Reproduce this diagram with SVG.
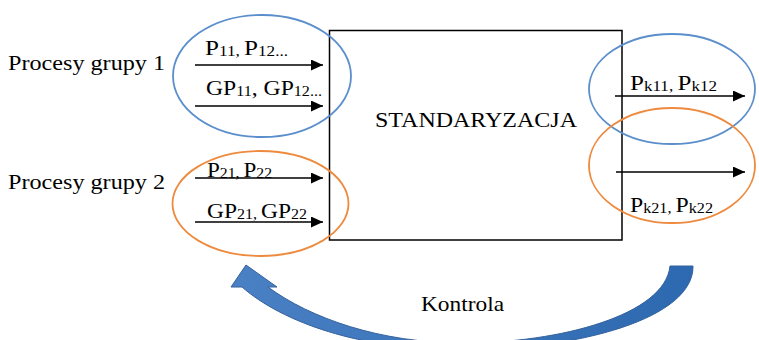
<svg xmlns="http://www.w3.org/2000/svg" width="759" height="340" viewBox="0 0 759 340">
<style>
text{font-family:"Times New Roman","Liberation Serif",Tinos,Times,"Noto Serif","DejaVu Serif",FreeSerif,serif;fill:#000;}
.lbl{font-size:22px;}
.sub{font-size:15px;}
.ln{stroke:#000;stroke-width:1.3;fill:none;}
.blue{fill:none;stroke:#5B8FCB;stroke-width:1.8;}
.orange{fill:none;stroke:#EE8A3E;stroke-width:1.8;}
</style>
<defs>
<marker id="ah" markerUnits="userSpaceOnUse" markerWidth="13" markerHeight="12" refX="12" refY="5.5" orient="auto">
<path d="M0,0 L12,5.5 L0,11 z" fill="#000"/>
</marker>
<linearGradient id="ag" x1="0" y1="0" x2="1" y2="0">
<stop offset="0" stop-color="#4A80C4"/>
<stop offset="1" stop-color="#2D69B0"/>
</linearGradient>
</defs>
<g id="standaryzacja">
<rect x="329.5" y="30.5" width="292.5" height="209.5" fill="#fff" stroke="#000" stroke-width="1.5"/>
<text class="lbl" x="375" y="127" font-size="21" textLength="202" lengthAdjust="spacingAndGlyphs">STANDARYZACJA</text>
</g>
<g id="grupa1">
<ellipse class="blue" cx="262" cy="76" rx="89" ry="61"/>
<text class="lbl" x="8" y="70" textLength="157" lengthAdjust="spacingAndGlyphs">Procesy grupy 1</text>
<text class="lbl" x="205" y="55" textLength="83" lengthAdjust="spacingAndGlyphs">P<tspan class="sub" dy="1">11, </tspan><tspan dy="-1">P</tspan><tspan class="sub" dy="1">12...</tspan></text>
<text class="lbl" x="206" y="95" textLength="116" lengthAdjust="spacingAndGlyphs">GP<tspan class="sub" dy="1">11</tspan><tspan dy="-1">, GP</tspan><tspan class="sub" dy="1">12...</tspan></text>
</g>
<g id="grupa2">
<ellipse class="orange" cx="260.5" cy="203.5" rx="88" ry="52.5"/>
<text class="lbl" x="8" y="189" textLength="157" lengthAdjust="spacingAndGlyphs">Procesy grupy 2</text>
<text class="lbl" x="207" y="177" textLength="65" lengthAdjust="spacingAndGlyphs">P<tspan class="sub" dy="1">21, </tspan><tspan dy="-1">P</tspan><tspan class="sub" dy="1">22</tspan></text>
<text class="lbl" x="207" y="218" textLength="100" lengthAdjust="spacingAndGlyphs">GP<tspan class="sub" dy="1">21, </tspan><tspan dy="-1">GP</tspan><tspan class="sub" dy="1">22</tspan></text>
</g>
<g id="wyjscie1">
<ellipse class="blue" cx="672" cy="89" rx="83" ry="55"/>
<text class="lbl" x="630" y="90" textLength="87" lengthAdjust="spacingAndGlyphs">P<tspan class="sub" dy="1">k11, </tspan><tspan dy="-1">P</tspan><tspan class="sub" dy="1">k12</tspan></text>
</g>
<g id="wyjscie2">
<ellipse class="orange" cx="672" cy="165.5" rx="83" ry="57.5"/>
<text class="lbl" x="630" y="212" textLength="83" lengthAdjust="spacingAndGlyphs">P<tspan class="sub" dy="1">k21, </tspan><tspan dy="-1">P</tspan><tspan class="sub" dy="1">k22</tspan></text>
</g>
<g id="kontrola">
<path d="M670,266 L693,266 C694,318 580,350 460,350 C360,350 282,322 242,287 L231,287 L246,265 L277,287 L268,287 C310,318 380,343 463,343 C560,343 665,315 670,266 Z" fill="url(#ag)" stroke="#35629C" stroke-width="1"/>
<text class="lbl" x="421" y="311" textLength="83" lengthAdjust="spacingAndGlyphs">Kontrola</text>
</g>
<g id="connectors">
<line class="ln" x1="195" y1="65" x2="323" y2="65" marker-end="url(#ah)"/>
<line class="ln" x1="195" y1="106" x2="323" y2="106" marker-end="url(#ah)"/>
<line class="ln" x1="195" y1="178" x2="323" y2="178" marker-end="url(#ah)"/>
<line class="ln" x1="195" y1="222" x2="323" y2="222" marker-end="url(#ah)"/>
<line class="ln" x1="615" y1="96" x2="745" y2="96" marker-end="url(#ah)"/>
<line class="ln" x1="616" y1="172" x2="745" y2="172" marker-end="url(#ah)"/>
</g>
</svg>
